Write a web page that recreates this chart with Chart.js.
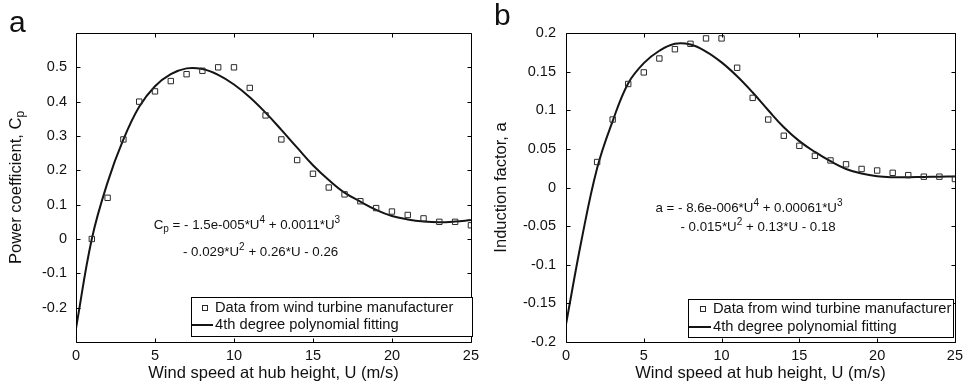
<!DOCTYPE html>
<html>
<head>
<meta charset="utf-8">
<script src="https://cdn.jsdelivr.net/npm/chart.js@4.4.1/dist/chart.umd.min.js"></script>
<style>
html,body{margin:0;padding:0;background:#fff;}
#wrap{position:relative;width:968px;height:392px;overflow:hidden;}
.panel{position:absolute;top:0;width:484px;height:392px;}
canvas{display:block;}
</style>
</head>
<body>
<div id="wrap">
  <div class="panel" style="left:0"><canvas id="ca" width="484" height="392"></canvas></div>
  <div class="panel" style="left:484px"><canvas id="cb" width="484" height="392"></canvas></div>
</div>
<script>
// ---------- data ----------
const cpSpeed = [1,2,3,4,5,6,7,8,9,10,11,12,13,14,15,16,17,18,19,20,21,22,23,24,25];
const cpData  = [0,0.12,0.29,0.40,0.43,0.46,0.48,0.49,0.50,0.50,0.44,0.36,0.29,0.23,0.19,0.15,0.13,0.11,0.09,0.08,0.07,0.06,0.05,0.05,0.04];
const aSpeed  = [2,3,4,5,6,7,8,9,10,11,12,13,14,15,16,17,18,19,20,21,22,23,24,25];
const aData   = [0.033,0.088,0.134,0.149,0.167,0.179,0.186,0.193,0.193,0.155,0.116,0.088,0.067,0.054,0.041,0.035,0.030,0.024,0.022,0.019,0.016,0.014,0.014,0.011];
const fitSpeed = [0,1,2,3,4,5,6,7,8,9,10,11,12,13,14,15,16,17,18,19,20,21,22,23,24,25];
const cpFit = [-0.26,0.0,0.165,0.29,0.385,0.445,0.48,0.497,0.495,0.478,0.45,0.413,0.368,0.318,0.266,0.215,0.172,0.135,0.109,0.085,0.067,0.057,0.051,0.049,0.051,0.055];
const aFit  = [-0.177,-0.068,0.025,0.086,0.135,0.161,0.177,0.186,0.185,0.176,0.162,0.144,0.123,0.100,0.078,0.060,0.046,0.034,0.024,0.018,0.0145,0.0133,0.0133,0.0137,0.014,0.0142];
const xTicks  = [0,5,10,15,20,25];
const cpTicks = [-0.2,-0.1,0,0.1,0.2,0.3,0.4,0.5];
const aTicks  = [-0.2,-0.15,-0.1,-0.05,0,0.05,0.1,0.15,0.2];
const seriesLabels = ['Data from wind turbine manufacturer','4th degree polynomial fitting'];
const xTitle = 'Wind speed at hub height, U (m/s)';

const FONT = '"Liberation Sans", Arial, Helvetica, sans-serif';
const INK = '#111';

function drawRich(ctx, segs, x, y, size, rotate) {
  ctx.save();
  ctx.translate(x, y);
  if (rotate) ctx.rotate(-Math.PI / 2);
  ctx.textBaseline = 'middle';
  ctx.textAlign = 'left';
  const small = Math.round(size * 0.75);
  let total = 0;
  segs.forEach(s => {
    ctx.font = (s[1] ? small : size) + 'px ' + FONT;
    total += ctx.measureText(s[0]).width;
  });
  let cx = rotate ? -total / 2 : 0;
  segs.forEach(s => {
    ctx.font = (s[1] ? small : size) + 'px ' + FONT;
    let dy = 0;
    if (s[1] === 'sup') dy = -size * 0.38;
    if (s[1] === 'sub') dy = size * 0.3;
    ctx.fillText(s[0], cx, dy);
    cx += ctx.measureText(s[0]).width;
  });
  ctx.restore();
}

const decor = {
  id: 'decor',
  afterDraw(chart, args, o) {
    const {ctx, chartArea: a, scales: {x, y}} = chart;
    ctx.save();
    ctx.fillStyle = INK;
    ctx.strokeStyle = '#000';
    ctx.lineWidth = 1;
    const L = Math.round(a.left) + 0.5, R = Math.round(a.right) + 0.5;
    const T = Math.round(a.top) + 0.5, B = Math.round(a.bottom) + 0.5;
    ctx.beginPath();
    ctx.rect(L, T, R - L, B - T);
    const TL = 4;
    x.ticks.forEach(t => {
      const px = Math.round(x.getPixelForValue(t.value)) + 0.5;
      ctx.moveTo(px, B); ctx.lineTo(px, B - TL);
      ctx.moveTo(px, T); ctx.lineTo(px, T + TL);
    });
    y.ticks.forEach(t => {
      const py = Math.round(y.getPixelForValue(t.value)) + 0.5;
      ctx.moveTo(L, py); ctx.lineTo(L + TL, py);
      ctx.moveTo(R, py); ctx.lineTo(R - TL, py);
    });
    ctx.stroke();

    // y axis title
    drawRich(ctx, o.yTitle, o.yTitleX, (a.top + a.bottom) / 2, 16.5, true);

    // equation text
    o.eq.forEach(line => {
      drawRich(ctx, line.segs, x.getPixelForValue(line.u), y.getPixelForValue(line.v), 13.3, false);
    });

    // panel letter
    ctx.font = '30px ' + FONT;
    ctx.textBaseline = 'alphabetic';
    ctx.textAlign = 'left';
    ctx.fillText(o.letter, o.letterX, o.letterY);

    // legend
    const lg = o.legend;
    ctx.fillStyle = '#fff';
    ctx.fillRect(lg.x, lg.y, lg.w, lg.h);
    ctx.strokeStyle = '#000';
    ctx.lineWidth = 1;
    ctx.strokeRect(Math.round(lg.x) + 0.5, Math.round(lg.y) + 0.5, Math.round(lg.w), Math.round(lg.h));
    const dsP = chart.data.datasets[1], dsL = chart.data.datasets[0];
    ctx.strokeStyle = dsP.borderColor;
    ctx.lineWidth = 1;
    const s = 5;
    ctx.strokeRect(Math.round(lg.mx - s / 2) + 0.5, Math.round(lg.y1 - s / 2) + 0.5, s, s);
    ctx.strokeStyle = dsL.borderColor;
    ctx.lineWidth = 2;
    ctx.beginPath();
    ctx.moveTo(lg.l0, lg.y2); ctx.lineTo(lg.l1, lg.y2);
    ctx.stroke();
    ctx.fillStyle = INK;
    ctx.font = '14.7px ' + FONT;
    ctx.textBaseline = 'middle';
    ctx.fillText(dsP.label, lg.tx, lg.y1);
    ctx.fillText(dsL.label, lg.tx, lg.y2);
    ctx.restore();
  }
};

function makePanel(id, p) {
  const pts = p.xs.map((u, i) => ({x: u, y: p.ys[i]}));
  const fit = fitSpeed.map((u, i) => ({x: u, y: p.fit[i]}));
  return new Chart(document.getElementById(id), {
    type: 'line',
    data: {
      datasets: [
        {label: seriesLabels[1], data: fit, borderColor: '#141414', borderWidth: 2,
         pointRadius: 0, tension: 0.4, fill: false, order: 2},
        {label: seriesLabels[0], data: pts, showLine: false, pointStyle: 'rect',
         pointRadius: 3.8, pointBorderWidth: 1, borderColor: '#2a2a2a',
         pointBackgroundColor: 'rgba(0,0,0,0)', backgroundColor: 'rgba(0,0,0,0)', order: 1}
      ]
    },
    options: {
      responsive: false,
      animation: false,
      devicePixelRatio: 1,
      layout: {padding: {left: 0, right: p.padRight, top: 33, bottom: 0}},
      plugins: {
        legend: {display: false},
        tooltip: {enabled: false},
        decor: p.decor
      },
      scales: {
        x: {
          type: 'linear', min: 0, max: 25,
          afterBuildTicks: s => { s.ticks = xTicks.map(v => ({value: v})); },
          afterFit: s => { s.height = 50; },
          grid: {display: false, drawTicks: false},
          border: {display: false},
          ticks: {padding: 5, color: INK, font: {family: FONT, size: 14.5}, maxRotation: 0,
                  callback: v => String(v)},
          title: {display: true, text: xTitle, color: INK, font: {family: FONT, size: 16.5},
                  padding: {top: 0, bottom: 9}}
        },
        y: {
          type: 'linear', min: p.ymin, max: p.ymax,
          afterBuildTicks: s => { s.ticks = p.yticks.map(v => ({value: v})); },
          afterFit: s => { s.width = p.yWidth; },
          grid: {display: false, drawTicks: false},
          border: {display: false},
          ticks: {padding: p.yPad, color: INK, font: {family: FONT, size: 14.5},
                  callback: v => String(v)}
        }
      }
    },
    plugins: [decor]
  });
}

makePanel('ca', {
  xs: cpSpeed, ys: cpData, fit: cpFit, ymin: -0.3, ymax: 0.6, yticks: cpTicks,
  yWidth: 76, padRight: 12, yPad: 9,
  decor: {
    letter: 'a', letterX: 9, letterY: 32,
    yTitle: [['Power coefficient, C'], ['p', 'sub']], yTitleX: 16,
    eq: [
      {u: 4.92, v: 0.040, segs: [['C'], ['p', 'sub'], [' = - 1.5e-005*U'], ['4', 'sup'], [' + 0.0011*U'], ['3', 'sup']]},
      {u: 6.77, v: -0.038, segs: [['- 0.029*U'], ['2', 'sup'], [' + 0.26*U - 0.26']]}
    ],
    legend: {x: 191, y: 297, w: 281, h: 39, mx: 204, tx: 215, y1: 307.5, y2: 325, l0: 192, l1: 213}
  }
});

makePanel('cb', {
  xs: aSpeed, ys: aData, fit: aFit, ymin: -0.2, ymax: 0.2, yticks: aTicks,
  yWidth: 82, padRight: 6, yPad: 10,
  decor: {
    letter: 'b', letterX: 10, letterY: 25,
    yTitle: [['Induction factor, a']], yTitleX: 17,
    eq: [
      {u: 5.75, v: -0.027, segs: [['a = - 8.6e-006*U'], ['4', 'sup'], [' + 0.00061*U'], ['3', 'sup']]},
      {u: 7.36, v: -0.051, segs: [['- 0.015*U'], ['2', 'sup'], [' + 0.13*U - 0.18']]}
    ],
    legend: {x: 204, y: 299, w: 265, h: 38, mx: 218, tx: 229, y1: 308.5, y2: 327, l0: 205, l1: 227}
  }
});
</script>
</body>
</html>
